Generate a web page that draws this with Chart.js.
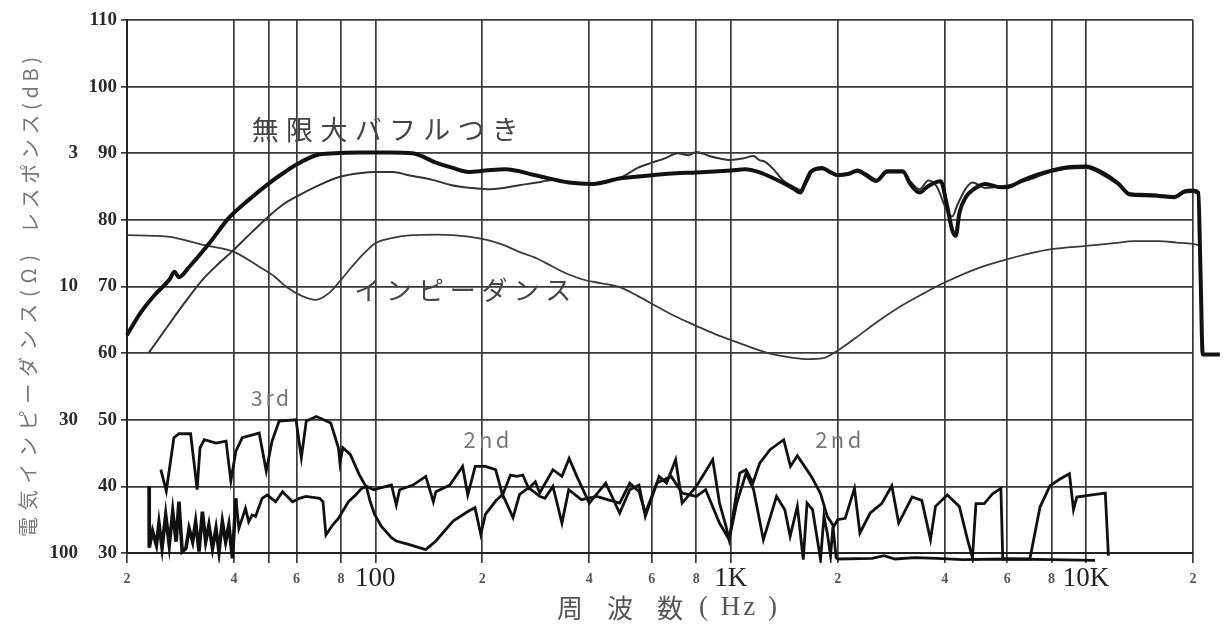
<!DOCTYPE html>
<html>
<head>
<meta charset="utf-8">
<script src="https://cdn.jsdelivr.net/npm/chart.js@4.4.1/dist/chart.umd.min.js"></script>
<style>
html,body{margin:0;padding:0;background:#fff;}
#wrap{width:1225px;height:630px;position:relative;}
canvas{background:#fff;display:block;}
</style>
</head>
<body>
<div id="wrap"><canvas id="c" width="1225" height="630"></canvas></div>
<script>
// ---- axis ticks ----
const xMin = 20, xMax = 20000;
const xTickValues = [20,40,50,60,80,100,200,400,600,800,1000,2000,4000,6000,8000,10000,20000];
const xTickLabels = ['2','4','','6','8','100','2','4','6','8','1K','2','4','6','8','10K','2'];
const xBigTicks = [100,1000,10000];
const dbTickValues = [30,40,50,60,70,80,90,100,110];
const ohmTickValues = [90,70,50,30];
const ohmTickLabels = ['3','10','30','100'];

// ---- response with infinite baffle (thick) ----
const baffleHz = [20,21.8,24,26.3,27.2,28,30,34,38.7,44,50.5,55,60,68,77,90,110,127,148,165,183,204,232,282,351,409,487,550,600,700,800,1000,1100,1210,1300,1410,1500,1570,1620,1680,1810,1900,2000,2150,2270,2400,2570,2760,3050,3200,3400,3600,3900,4050,4200,4300,4400,4600,4800,5200,5750,6000,6600,7300,8000,8900,10000,11000,12300,13300,14700,16000,17700,19000,20000,20700,21000,21300,23800];
const baffleDb = [62.7,66,68.8,71,72.2,71.4,73,76.4,80.3,83,85.6,87,88.3,89.7,90,90.1,90.1,90,88.6,87.8,87.2,87.4,87.6,86.7,85.6,85.4,86.2,86.5,86.7,87,87.1,87.4,87.6,87.1,86.4,85.5,84.7,84.1,85.5,87.2,87.8,87.2,86.7,86.9,87.4,86.8,85.9,87.3,87.3,85.4,84.1,85.1,85.8,82.5,78.5,77.6,81,83.5,84.5,85.4,84.9,84.9,85.9,86.8,87.4,87.9,88,87.2,85.5,83.8,83.7,83.6,83.4,84.3,84.4,84.1,72,59.8,59.8];

// ---- response without baffle (thin) ----
const openHz = [23,26,29,32.6,36,39.4,45,50.5,55,60,70,80,90,100,112,124,145,164,185,206,230,254,285,315,360,409,450,493,547,600,650,710,760,800,870,934,1000,1080,1160,1200,1250,1330,1400,1500,1570,1650,1700,1810,1900,2000,2270,2570,2760,3050,3200,3400,3600,3800,4050,4200,4350,4600,4800,5200,5750,6600,8000,8900,10000,11000,12300,13300,14700,17700,19000,20000,20700];
const openDb = [60,64,67.5,71,73.3,75.2,78.2,80.7,82.3,83.5,85.3,86.5,87,87.2,87.2,86.7,86,85.2,84.8,84.6,84.8,85.2,85.6,86,85.6,85.4,85.8,86.4,87.8,88.6,89.2,90,89.7,90.2,89.6,89.2,89,89.2,89.6,89,88.7,87.4,86,85,84.5,86,87.3,87.6,87.1,86.9,87.2,85.7,87.1,87.1,85.8,84.6,85.9,85,81.5,80.5,82.3,84.8,85.6,84.8,85,85.7,87.2,87.7,87.8,86.9,85.3,84,83.9,83.6,84.1,84.2,83.9];

// ---- impedance (plotted on dB grid) ----
const impHz = [20,26,33,40,47,52,56,62,68,74,80,86,93,100,112,127,150,183,206,230,254,285,315,350,393,430,487,547,620,700,800,900,1000,1150,1300,1500,1650,1810,2000,2250,2570,3000,3500,4000,5000,5750,7000,8000,10000,12000,13600,16000,18000,20000,20700];
const impDb = [77.7,77.5,76.2,75.2,73,71.5,70,68.6,68,69,71,73,75,76.5,77.3,77.7,77.8,77.5,77,76.2,75.2,74.2,73,71.8,70.9,70.5,69.9,68.6,67,65.5,64.1,62.9,62,60.8,59.9,59.3,59.1,59.2,60.4,62.3,64.6,67,69,70.6,72.8,73.8,75,75.6,76.1,76.5,76.8,76.8,76.6,76.4,76.2];

// ---- 2nd harmonic distortion ----
const dist2Hz = [23.07,23.1,23.6,24.2,24.6,25.1,25.7,26.3,26.9,27.5,28,28.6,29.3,29.9,30.6,31.2,31.9,32.6,33.3,34,34.8,35.6,36.3,37.1,37.9,38.7,39.6,40.5,41.3,43.1,44,45,46,48,49.6,52.4,54.8,58.5,61.1,63.8,69.7,71.2,72.6,75.8,78.7,84,88,91.5,94.5,99,102,111,114.5,117,127.6,138.6,145.6,148,162,176,182,191,204,218,228,240,250,260,270,282,290,316,335,351,369,400,445,487,520,552,575,629,660,700,730,800,890,930,970,990,1060,1105,1155,1207,1290,1410,1473,1540,1600,1690,1790,1870,1950,2000,2100,2230,2310,2470,2660,2840,2970,3240,3450,3650,3770,4070,4400,4640,4790,4900,5170,5460,5760,5830,6950,7420,7920,8450,8980,9220,9420,10270,11330,11560];
const dist2Db = [40,30.8,33.3,31.2,34.5,30.8,35.7,31.2,36.2,31.7,37.7,30.2,30.7,33.7,31.7,34.7,30.2,36.2,31.7,34.2,30.7,33.7,30.2,34.7,31.7,34.2,29.2,38.2,33.7,36.7,34.7,35.7,35.5,38.2,38.7,37.7,39.2,37.7,38.2,38.5,38.2,37.7,32.7,34.2,35.2,37.7,38.7,39.7,40,39.5,39.7,40.2,37.2,39.5,40.2,41.5,37.7,39.2,40.2,43,38.7,43,43,42.5,38.7,41.7,41.5,41.7,39.7,40.7,39,42.5,41.5,44.2,41.5,37.5,40.5,36,39.5,40.2,35.5,41.5,40.5,44,37.5,40,44,37.5,34,32,42,42.5,40.5,43.5,45.5,47,43,44.6,43.3,41.4,38.9,35.5,34,35,35.2,39.7,33,36,37.4,40.1,34.5,38.4,37.9,32,37,38.7,37,32,29.3,37.4,37.4,38.9,39.7,29.1,29.1,36.9,40.1,41.1,41.9,36.5,38.4,38.7,39,29.6];

// ---- 3rd harmonic distortion ----
const dist3Hz = [24.9,25.8,27.1,28,30.2,31,31.5,32.1,33,35.6,38,39.2,40.5,42.2,47.1,49.3,51.2,53.6,59.8,61.9,63.9,68.2,74.9,78.7,79.5,81,85,90,94.5,96.6,99.5,104,111,114.5,124,138.6,148,165.5,183,190.7,198,204,218,228,244,254.6,270,290,300,316,335,350,380,420,450,487,520,552,575,620,680,730,800,850,930,990,1040,1105,1160,1236,1346,1420,1470,1540,1570,1600,1640,1700,1790,1830,1870,1910,1940,1980,2000,2500,2700,2900,3300,3800,4500,6000,8000,10600];
const dist3Db = [42.5,39.3,47.3,47.9,47.9,42.8,39.5,45.8,47,46.5,46.8,40.8,45.3,47.3,48,42.3,46.8,49.8,50,44.3,49.8,50.5,49.5,45.8,43.5,45.8,44.8,41.8,39.8,37.8,35.8,34,32.3,31.8,31.3,30.5,31.8,34.8,36.3,36.8,32.8,35.8,37.8,38.8,35.3,38.8,39.8,38.5,38.2,40,34.5,39.5,38,38.5,38,37.5,40.5,39.2,36,40.5,41.5,39,38.5,39.5,34.5,32,37.5,42,39.5,32,38.5,36.5,32.5,37,33,29,37.5,36.5,29,35.5,33,29.6,34,29.3,29.1,29.2,29.6,29.1,29.3,29.2,29,29.1,29,28.9];

// ---- in-chart annotations ----
const notes = [
  {text:'無限大バフルつき', hz:44.9, db:93.6, width:267, size:27, color:'#454545'},
  {text:'インピーダンス', hz:87.2, db:69.5, width:217, size:26, color:'#454545'},
  {text:'3rd', hz:44.7, db:53.3, width:38, size:21, color:'#777'},
  {text:'2nd', hz:177, db:47, width:46, size:22, color:'#777'},
  {text:'2nd', hz:1730, db:47, width:46, size:22, color:'#777'}
];

const pts = (hz, db) => hz.map((h, i) => ({x: h, y: db[i]}));
const CLIP = {left: 4, top: 4, right: 40, bottom: 10};

function fitSpacing(ctx, text, width) {
  ctx.letterSpacing = '0px';
  const w = ctx.measureText(text).width;
  const n = [...text].length;
  const sp = n > 1 ? Math.max(0, (width - w) / (n - 1)) : 0;
  ctx.letterSpacing = sp.toFixed(2) + 'px';
  return sp;
}

const textPlugin = {
  id: 'texts',
  afterDatasetsDraw(chart) {
    const {ctx, scales: {x, y}} = chart;
    ctx.save();
    ctx.textBaseline = 'middle';
    ctx.textAlign = 'left';
    for (const a of notes) {
      ctx.font = `${a.size}px "Noto Sans CJK JP", "DejaVu Sans", sans-serif`;
      ctx.fillStyle = a.color;
      fitSpacing(ctx, a.text, a.width);
      ctx.fillText(a.text, x.getPixelForValue(a.hz), y.getPixelForValue(a.db));
    }
    // x axis title
    ctx.fillStyle = '#555';
    ctx.font = '26px "Noto Sans CJK JP", sans-serif';
    fitSpacing(ctx, '周 波 数', 126);
    ctx.fillText('周 波 数', 557, 608);
    ctx.font = '27px "Liberation Serif", serif';
    fitSpacing(ctx, '( Hz )', 78);
    ctx.fillText('( Hz )', 699, 608);
    // y axis titles (vertical)
    ctx.font = '20px "Noto Sans CJK JP", sans-serif';
    ctx.fillStyle = '#777';
    ctx.translate(30, 0);
    ctx.rotate(-Math.PI / 2);
    fitSpacing(ctx, 'レスポンス(dB)', 176);
    ctx.fillText('レスポンス(dB)', -233, 0);
    fitSpacing(ctx, '電気インピーダンス(Ω)', 282);
    ctx.fillText('電気インピーダンス(Ω)', -537, -2);
    ctx.restore();
  }
};

new Chart(document.getElementById('c'), {
  type: 'line',
  data: {
    datasets: [
      {label: '無限大バフルつき', data: pts(baffleHz, baffleDb), borderColor: '#111', borderWidth: 4, cubicInterpolationMode: 'monotone', tension: 0.3, pointRadius: 0, clip: CLIP},
      {label: 'レスポンス', data: pts(openHz, openDb), borderColor: '#333', borderWidth: 2, cubicInterpolationMode: 'monotone', tension: 0.3, pointRadius: 0, clip: CLIP},
      {label: 'インピーダンス', data: pts(impHz, impDb), borderColor: '#3a3a3a', borderWidth: 1.8, cubicInterpolationMode: 'monotone', tension: 0.3, pointRadius: 0, clip: CLIP},
      {label: '2nd', data: pts(dist2Hz, dist2Db), borderColor: '#111', borderWidth: 2.8, tension: 0, pointRadius: 0, clip: CLIP,
        segment: {borderWidth: c => (c.p0.parsed.x < 40 ? 3.6 : 2.8)}},
      {label: '3rd', data: pts(dist3Hz, dist3Db), borderColor: '#111', borderWidth: 2.8, tension: 0, pointRadius: 0, clip: CLIP}
    ]
  },
  options: {
    responsive: false,
    animation: false,
    layout: {padding: {left: 0, right: 32, top: 20, bottom: 0}},
    plugins: {legend: {display: false}, tooltip: {enabled: false}, title: {display: false}},
    scales: {
      x: {
        type: 'logarithmic', position: 'bottom', bounds: 'data',
        afterDataLimits: s => { s.min = xMin; s.max = xMax; },
        afterBuildTicks: s => { s.ticks = xTickValues.map(v => ({value: v})); },
        afterFit: s => { s.height = 77; },
        grid: {color: '#3a3a3a', lineWidth: 1.7, tickLength: 10, drawTicks: true},
        border: {display: true, color: '#222', width: 2},
        ticks: {
          autoSkip: false, maxRotation: 0, minRotation: 0, padding: 0,
          color: c => (c.tick && xBigTicks.includes(c.tick.value)) ? '#222' : '#555',
          callback: (v, i) => xTickLabels[i],
          font: c => (c.tick && xBigTicks.includes(c.tick.value))
            ? {family: '"Liberation Serif", serif', size: 27, lineHeight: 1.2}
            : {family: '"Liberation Serif", serif', size: 14, weight: 'bold', lineHeight: 32.4 / 14}
        }
      },
      y: {
        type: 'linear', min: 30, max: 110, position: 'left', weight: 0,
        afterBuildTicks: s => { s.ticks = dbTickValues.map(v => ({value: v})); },
        afterFit: s => { s.width = 47; },
        grid: {color: '#3a3a3a', lineWidth: 1.7, tickLength: 6, drawTicks: true},
        border: {display: true, color: '#222', width: 2},
        ticks: {padding: 4, color: '#2a2a2a', font: {family: '"Liberation Serif", serif', size: 19, weight: 'bold'}}
      },
      y2: {
        type: 'linear', min: 30, max: 110, position: 'left', weight: 1,
        afterBuildTicks: s => { s.ticks = ohmTickValues.map(v => ({value: v})); },
        afterFit: s => { s.width = 80; },
        grid: {display: false, drawTicks: false},
        border: {display: false},
        ticks: {padding: 2, color: '#2a2a2a', callback: (v, i) => ohmTickLabels[i], font: {family: '"Liberation Serif", serif', size: 19, weight: 'bold'}}
      }
    }
  },
  plugins: [textPlugin]
});
</script>
</body>
</html>
